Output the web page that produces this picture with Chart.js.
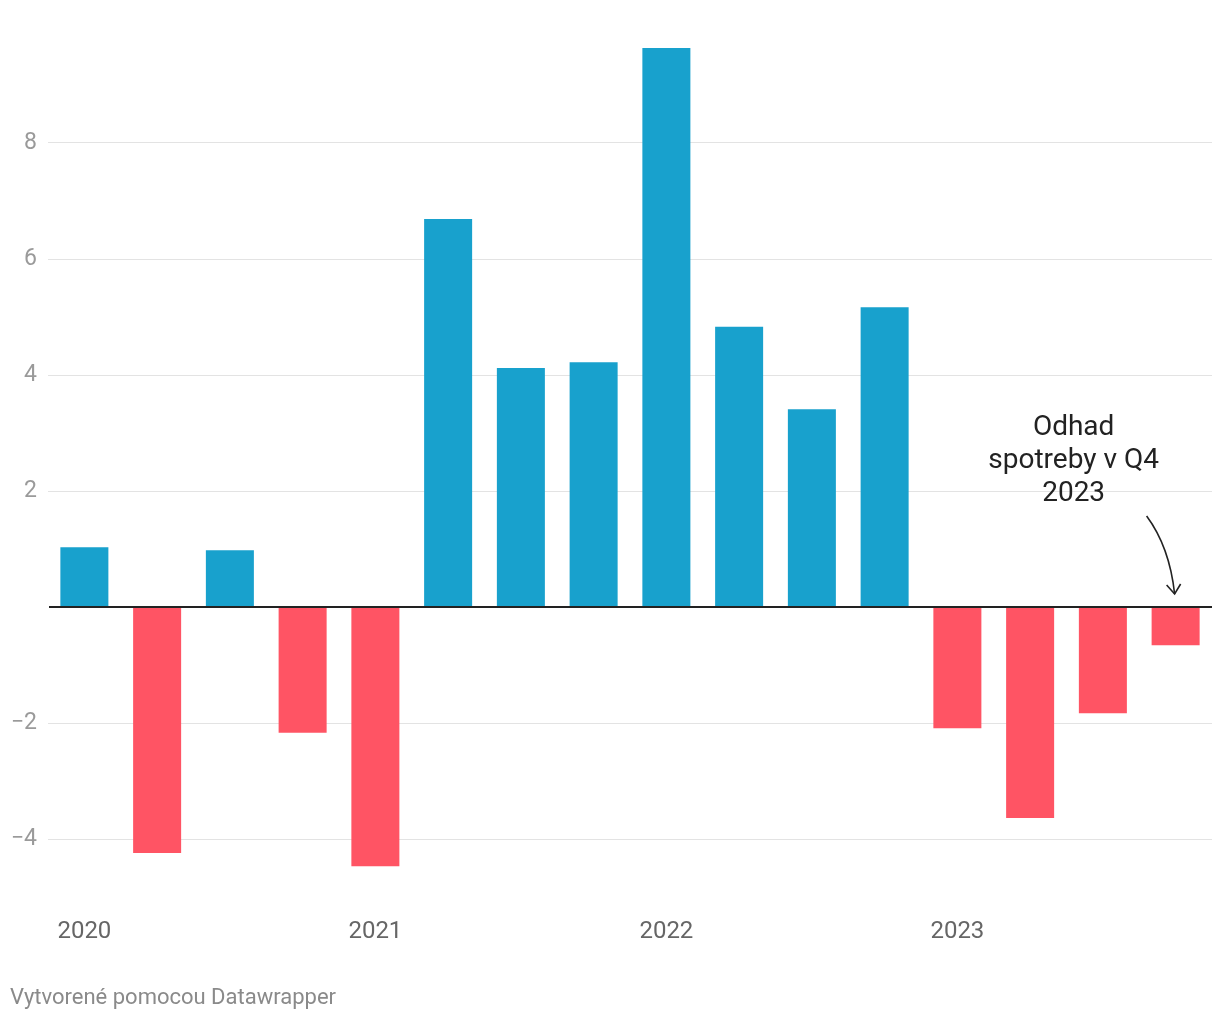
<!DOCTYPE html>
<html>
<head>
<meta charset="utf-8">
<script src="https://cdn.jsdelivr.net/npm/chart.js@4/dist/chart.umd.min.js"></script>
<style>
  html, body { margin: 0; padding: 0; background: #fff; }
  #wrap { position: relative; width: 1220px; height: 1020px; }
  canvas { display: block; }
  #footer { position: absolute; left: 10px; top: 984px; font-family: Roboto, sans-serif; font-size: 22px; color: #8a8a8a; line-height: 26px; }
</style>
</head>
<body>
<div id="wrap">
  <canvas id="c" width="1220" height="1020"></canvas>
  <div id="footer">Vytvorené pomocou Datawrapper</div>
</div>
<script>
const categories = ['2020 Q1','2020 Q2','2020 Q3','2020 Q4','2021 Q1','2021 Q2','2021 Q3','2021 Q4','2022 Q1','2022 Q2','2022 Q3','2022 Q4','2023 Q1','2023 Q2','2023 Q3','2023 Q4'];
const values = [1.03, -4.24, 0.98, -2.17, -4.47, 6.69, 4.12, 4.22, 9.64, 4.83, 3.41, 5.17, -2.09, -3.64, -1.83, -0.66];
const xTickLabels = ['2020','','','','2021','','','','2022','','','','2023','','',''];
const yTickValues = [-4, -2, 0, 2, 4, 6, 8];
const annotationLines = ['Odhad', 'spotreby v Q4', '2023'];

const BLUE = '#18a1cd';
const RED = '#ff5464';
const FONT = 'Roboto, sans-serif';

const overlay = {
  id: 'overlay',
  afterDatasetsDraw(chart) {
    const { ctx, chartArea, scales } = chart;
    const y = scales.y, x = scales.x;
    const y0 = y.getPixelForValue(0);
    ctx.save();
    // zero line
    ctx.strokeStyle = '#222';
    ctx.lineWidth = 2;
    ctx.beginPath();
    ctx.moveTo(chartArea.left + 1, y0);
    ctx.lineTo(chartArea.right, y0);
    ctx.stroke();

    // annotation text
    const lastX = x.getPixelForValue(categories.length - 1);
    const tx = lastX - 102;
    ctx.fillStyle = '#222';
    ctx.font = '28px ' + FONT;
    ctx.textAlign = 'center';
    ctx.textBaseline = 'middle';
    const lineVals = [3.09, 2.51, 1.94];
    annotationLines.forEach((t, i) => ctx.fillText(t, tx, y.getPixelForValue(lineVals[i])));

    // arrow
    const sx = lastX - 29, sy = y.getPixelForValue(1.57);
    const ex = lastX - 1, ey = y0 - 13;
    ctx.strokeStyle = '#222';
    ctx.lineWidth = 1.6;
    ctx.beginPath();
    ctx.moveTo(sx, sy);
    ctx.quadraticCurveTo(lastX - 6, y0 - 60, ex, ey);
    ctx.stroke();
    ctx.beginPath();
    ctx.moveTo(ex - 8, ey - 9);
    ctx.lineTo(ex, ey);
    ctx.lineTo(ex + 6, ey - 10);
    ctx.stroke();
    ctx.restore();
  }
};

new Chart(document.getElementById('c'), {
  type: 'bar',
  data: {
    labels: categories,
    datasets: [{
      data: values,
      backgroundColor: values.map(v => v >= 0 ? BLUE : RED),
      borderWidth: 0,
      categoryPercentage: 1,
      barPercentage: 0.66
    }]
  },
  options: {
    responsive: false,
    animation: false,
    events: [],
    layout: { padding: { left: 0, right: 8, top: 27, bottom: 0 } },
    plugins: { legend: { display: false }, tooltip: { enabled: false }, title: { display: false } },
    scales: {
      x: {
        grid: { display: false, drawTicks: false },
        border: { display: false },
        ticks: {
          autoSkip: false, maxRotation: 0, minRotation: 0,
          padding: 21,
          color: '#666',
          font: { family: FONT, size: 24 },
          callback: (v, i) => xTickLabels[i]
        },
        afterFit: s => { s.height = 123; }
      },
      y: {
        min: -5, max: 10,
        afterBuildTicks: s => { s.ticks = yTickValues.map(v => ({ value: v })); },
        grid: {
          drawTicks: false,
          color: c => c.tick && c.tick.value === 0 ? 'rgba(0,0,0,0)' : '#e3e3e3',
          lineWidth: 1
        },
        border: { display: false },
        ticks: {
          padding: 11,
          color: '#9a9a9a',
          font: { family: FONT, size: 23 },
          callback: v => v === 0 ? '' : (v < 0 ? '\u2212' + Math.abs(v) : String(v))
        },
        afterFit: s => { s.width = 48; }
      }
    }
  },
  plugins: [overlay]
});
</script>
</body>
</html>
